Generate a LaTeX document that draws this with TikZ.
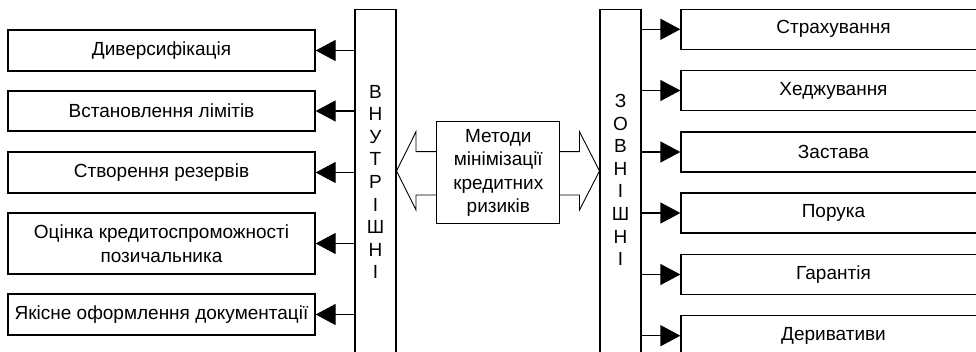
\documentclass[tikz,border=0pt]{standalone}
\usepackage{fontspec}
\setmainfont{Liberation Sans}
\usetikzlibrary{arrows.meta}
\begin{document}
\begin{tikzpicture}[x=1pt,y=-1pt,
  box/.style={draw, line width=1.3pt, inner sep=0pt, align=center, font=\fontsize{19}{23.5}\selectfont},
  lbox/.style={box, minimum width=307pt},
  rbox/.style={box, minimum width=305pt, minimum height=40pt},
  conn/.style={line width=1.3pt, -{Triangle[length=20pt,width=21pt]}},
  col/.style={draw, line width=1.3pt, minimum width=41pt, minimum height=351pt, inner sep=0pt},
  letters/.style={align=center, font=\fontsize{19}{22.6}\selectfont, inner sep=0pt},
  dbl/.style={line width=0.9pt, line join=miter}]
\useasboundingbox (0,0) rectangle (976,352);
\clip (0,0) rectangle (976,352);

% columns
\node[col] (colL) at (375.5,184.8) {};
\node[letters] (txtL) at (375.5,182) {В\\Н\\У\\Т\\Р\\І\\Ш\\Н\\І};
\node[col] (colR) at (620.5,184.8) {};
\node[letters] (txtR) at (620.5,180) {З\\О\\В\\Н\\І\\Ш\\Н\\І};

% centre box
\node[box, minimum width=123pt, minimum height=102pt] (cbox) at (498.3,172.8) {Методи\\мінімізації\\кредитних\\ризиків};

% double arrow outline
\draw[dbl] (436.7,151.7) -- (416,151.7) -- (416,131.7) -- (396.5,171) -- (416,210) -- (416,195) -- (436.7,195);
\draw[dbl] (560,151.7) -- (579.5,151.7) -- (579.5,131.7) -- (599.5,171) -- (579.5,210) -- (579.5,195) -- (560,195);

% left boxes
\node[lbox, minimum height=41pt] (L1) at (161.5,50.5) {Диверсифікація};
\node[lbox, minimum height=40pt] (L2) at (161.5,111) {Встановлення лімітів};
\node[lbox, minimum height=41pt] (L3) at (161.5,172.5) {Створення резервів};
\node[lbox, minimum height=61pt] (L4) at (161.5,243.5) {Оцінка кредитоспроможності\\позичальника};
\node[lbox, minimum height=41pt] (L5) at (161.5,314.5) {Якісне оформлення документації};

% right boxes
\node[rbox] (R1) at (833.5,29.3) {Страхування};
\node[rbox] (R2) at (833.5,90.5) {Хеджування};
\node[rbox] (R3) at (833.5,152) {Застава};
\node[rbox] (R4) at (833.5,213) {Порука};
\node[rbox] (R5) at (833.5,274.5) {Гарантія};
\node[rbox] (R6) at (833.5,335.7) {Деривативи};

% connectors
\foreach \n in {L1,L2,L3,L4,L5}
  \draw[conn] (colL.west |- \n.east) -- (\n.east);
\foreach \n in {R1,R2,R3,R4,R5,R6}
  \draw[conn] (colR.east |- \n.west) -- (\n.west);
\end{tikzpicture}
\end{document}
